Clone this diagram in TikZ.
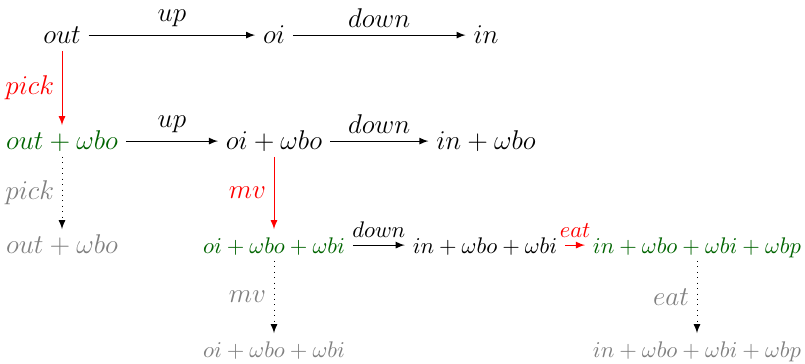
\documentclass[tikz,border=0pt]{standalone}
\usetikzlibrary{arrows.meta}
\definecolor{dgreen}{RGB}{0,100,0}
\begin{document}
\begin{tikzpicture}[x=0.4425pt,y=-0.4425pt,
  st/.style={anchor=base,text height=0.7em,text depth=0pt,font=\large},
  sm/.style={anchor=base,text height=0.7em,text depth=0pt,font=\normalsize},
  arr/.style={-latex},
  redarr/.style={-latex,red},
  dotarr/.style={-latex,dotted},
  lab/.style={font=\large},
  slab/.style={font=\normalsize},
]
\useasboundingbox (0,0) rectangle (805,364);
% row 1
\node[st] (out) at (62,43) {$out$};
\node[st] (oi) at (274,43) {$oi$};
\node[st] (in) at (486,43) {$in$};
% row 2
\node[st,text=dgreen] (outbo) at (62,149) {$out+\omega bo$};
\node[st] (oibo) at (274,149) {$oi+\omega bo$};
\node[st] (inbo) at (486,149) {$in+\omega bo$};
% row 3
\node[st,text=gray] (goutbo) at (62,253) {$out+\omega bo$};
\node[sm,text=dgreen] (oibobi) at (274,253) {$oi+\omega bo+\omega bi$};
\node[sm] (inbobi) at (485,253) {$in+\omega bo+\omega bi$};
\node[sm,text=dgreen] (inbobibp) at (697,253) {$in+\omega bo+\omega bi+\omega bp$};
% row 4
\node[sm,text=gray] (goibobi) at (274,357) {$oi+\omega bo+\omega bi$};
\node[sm,text=gray] (ginbobibp) at (697,357) {$in+\omega bo+\omega bi+\omega bp$};
% arrows
\draw[arr] (out) -- node[above,lab] {$up$} (oi);
\draw[arr] (oi) -- node[above,lab] {$down$} (in);
\draw[arr] (outbo) -- node[above,lab] {$up$} (oibo);
\draw[arr] (oibo) -- node[above,lab] {$down$} (inbo);
\draw[arr] (oibobi) -- node[above,slab] {$down$} (inbobi);
\draw[redarr] (inbobi) -- node[above,slab] {$eat$} (inbobibp);
\draw[redarr] (out) -- node[left,lab] {$pick$} (outbo);
\draw[redarr] (oibo) -- node[left,lab] {$mv$} (oibobi);
\draw[dotarr] (outbo) -- node[left,lab,text=gray] {$pick$} (goutbo);
\draw[dotarr] (oibobi) -- node[left,lab,text=gray] {$mv$} (goibobi);
\draw[dotarr] (inbobibp) -- node[left,lab,text=gray] {$eat$} (ginbobibp);
\end{tikzpicture}
\end{document}
